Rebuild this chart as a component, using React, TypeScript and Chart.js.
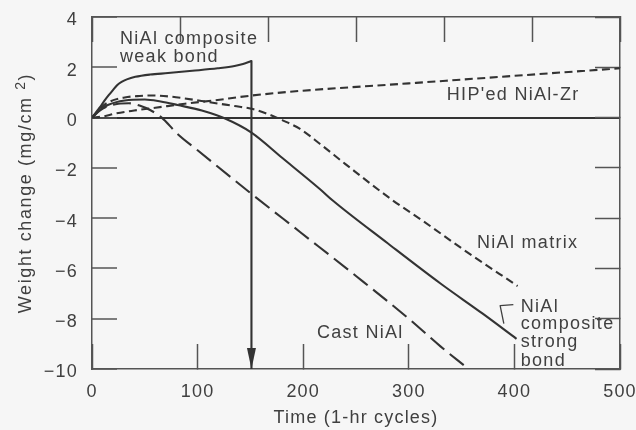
import React, { useEffect, useRef } from 'react';
import { Chart, registerables } from 'chart.js';

Chart.register(...registerables);

// ---- data (time in 1-hr cycles, weight change in mg/cm^2) ----
const weakX = [0, 3, 6, 9, 12, 16, 20, 24, 28, 33, 41, 55, 72, 95, 119, 135, 143, 151];
const weakY = [0, 0.16, 0.33, 0.5, 0.68, 0.9, 1.1, 1.3, 1.42, 1.52, 1.62, 1.71, 1.77, 1.86, 1.96, 2.05, 2.13, 2.25];

const arrowX = [151, 151];
const arrowY = [2.25, -10];

const hipX = [0, 10, 22, 40, 60, 88, 119, 140, 161, 197, 300, 400, 500];
const hipY = [0, 0.04, 0.16, 0.28, 0.39, 0.55, 0.7, 0.82, 0.92, 1.06, 1.36, 1.66, 1.96];

const matrixX = [0, 8, 16, 31, 45, 57, 75, 88, 104, 119, 135, 151, 166, 180, 197, 216, 240, 285, 313, 350, 403];
const matrixY = [0, 0.38, 0.62, 0.8, 0.86, 0.88, 0.83, 0.76, 0.66, 0.56, 0.46, 0.35, 0.15, -0.1, -0.45, -1.05, -1.85, -3.3, -4.1, -5.2, -6.7];

const strongX = [0, 8, 15, 31, 50, 65, 81, 104, 126, 151, 180, 216, 228, 280, 330, 370, 402];
const strongY = [0, 0.32, 0.5, 0.68, 0.72, 0.64, 0.5, 0.28, -0.04, -0.6, -1.6, -2.85, -3.3, -5.0, -6.6, -7.8, -8.8];

const castX = [0, 8, 15, 25, 35, 45, 55, 66, 81, 100, 150, 197, 250, 300, 330, 355];
const castY = [0, 0.3, 0.45, 0.55, 0.57, 0.48, 0.3, 0, -0.65, -1.3, -3.0, -4.55, -6.3, -8.0, -9.1, -9.95];

const leaderX = [399, 386.5, 390];
const leaderY = [-7.44, -7.48, -8.2];

// annotation text lines, anchored at (x, baseline y) in data units
const annoText = ['NiAl composite', 'weak bond', "HIP'ed NiAl-Zr", 'NiAl matrix', 'Cast NiAl', 'NiAl', 'composite', 'strong', 'bond'];
const annoX = [26.5, 26.5, 336, 364.6, 213, 406, 406, 406, 406];
const annoY = [2.93, 2.21, 0.7, -5.19, -8.77, -7.73, -8.41, -9.13, -9.88];

const xTitle = 'Time (1-hr cycles)';
const yTitleMain = 'Weight change (mg/cm ';
const yTitleSup = '2';
const yTitleEnd = ')';

// ---- styles ----
const FONT = "'Liberation Sans', Arial, Helvetica, sans-serif";
const TEXT = '#404040';
const LINE = '#333333';
const FRAME = '#555555';
const BG = '#f6f6f6';

const zip = (xs: number[], ys: number[]) => xs.map((x, i) => ({ x, y: ys[i] }));

const stylePlugin = {
  id: 'stylePlugin',
  beforeLayout(chart: any) {
    chart.ctx.letterSpacing = '1.2px';
  },
  beforeDraw(chart: any) {
    const ctx = chart.ctx;
    ctx.save();
    ctx.fillStyle = BG;
    ctx.fillRect(0, 0, chart.width, chart.height);
    ctx.restore();
    ctx.letterSpacing = '1.2px';
  },
  afterDraw(chart: any) {
    const ctx = chart.ctx;
    // arrowhead at the end of the arrow dataset
    const meta = chart.getDatasetMeta(1);
    const tip = meta.data[meta.data.length - 1];
    ctx.save();
    ctx.fillStyle = LINE;
    ctx.beginPath();
    ctx.moveTo(tip.x, tip.y);
    ctx.lineTo(tip.x - 4.5, tip.y - 21);
    ctx.lineTo(tip.x + 4.5, tip.y - 21);
    ctx.closePath();
    ctx.fill();
    ctx.restore();

    // annotations
    const xs = chart.scales.x;
    const ys = chart.scales.y;
    ctx.save();
    ctx.font = `18px ${FONT}`;
    ctx.letterSpacing = '1.3px';
    ctx.fillStyle = TEXT;
    ctx.textAlign = 'left';
    ctx.textBaseline = 'alphabetic';
    annoText.forEach((t, i) => {
      ctx.fillText(t, xs.getPixelForValue(annoX[i]), ys.getPixelForValue(annoY[i]));
    });
    ctx.restore();

    // y-axis title with superscript
    const area = chart.chartArea;
    ctx.save();
    ctx.fillStyle = TEXT;
    ctx.textAlign = 'left';
    ctx.textBaseline = 'alphabetic';
    ctx.letterSpacing = '1.6px';
    const mainFont = `18px ${FONT}`;
    const supFont = `14px ${FONT}`;
    ctx.font = mainFont;
    const w1 = ctx.measureText(yTitleMain).width;
    const w3 = ctx.measureText(yTitleEnd).width;
    ctx.font = supFont;
    const w2 = ctx.measureText(yTitleSup).width;
    const total = w1 + w2 + w3;
    ctx.translate(31, (area.top + area.bottom) / 2);
    ctx.rotate(-Math.PI / 2);
    let x0 = -total / 2;
    ctx.font = mainFont;
    ctx.fillText(yTitleMain, x0, 0);
    x0 += w1;
    ctx.font = supFont;
    ctx.fillText(yTitleSup, x0, -6);
    x0 += w2;
    ctx.font = mainFont;
    ctx.fillText(yTitleEnd, x0, 0);
    ctx.restore();
    ctx.letterSpacing = '1.2px';
  },
};

const tickFont = { family: FONT, size: 18 };

export default function App() {
  const ref = useRef<HTMLCanvasElement | null>(null);

  useEffect(() => {
    const canvas = ref.current;
    if (!canvas) return;
    const lineBase = {
      pointRadius: 0,
      borderColor: LINE,
      borderWidth: 2.1,
      fill: false,
      cubicInterpolationMode: 'monotone' as const,
      borderCapStyle: 'butt' as const,
      borderJoinStyle: 'round' as const,
      xAxisID: 'x',
      yAxisID: 'y',
    };
    const chart = new Chart(canvas, {
      type: 'line',
      data: {
        datasets: [
          { ...lineBase, label: 'NiAl composite weak bond', data: zip(weakX, weakY) },
          { ...lineBase, label: 'arrow', data: zip(arrowX, arrowY), cubicInterpolationMode: 'default', tension: 0 },
          { ...lineBase, label: "HIP'ed NiAl-Zr", data: zip(hipX, hipY), borderDash: [8, 4.5] },
          { ...lineBase, label: 'NiAl matrix', data: zip(matrixX, matrixY), borderDash: [8, 4.5] },
          { ...lineBase, label: 'NiAl composite strong bond', data: zip(strongX, strongY) },
          { ...lineBase, label: 'Cast NiAl', data: zip(castX, castY), borderDash: [18, 7] },
          { ...lineBase, label: 'leader', data: zip(leaderX, leaderY), borderWidth: 1.3, borderColor: TEXT, cubicInterpolationMode: 'default', tension: 0 },
        ],
      },
      options: {
        animation: false,
        responsive: false,
        events: [],
        layout: { padding: 0 },
        plugins: { legend: { display: false }, tooltip: { enabled: false } },
        scales: {
          x: {
            type: 'linear',
            position: 'bottom',
            min: 0,
            max: 500,
            ticks: { stepSize: 100, padding: 37, color: TEXT, font: tickFont, maxRotation: 0, autoSkip: false },
            grid: { drawOnChartArea: false, tickLength: -25, tickColor: FRAME, tickWidth: 1.5 },
            border: { color: FRAME, width: 1.5 },
            title: { display: true, text: xTitle, color: TEXT, font: tickFont, padding: { top: 0, bottom: 1 } },
            afterFit: (s: any) => {
              s.height = 61;
              s.paddingLeft = 0;
              s.paddingRight = 0;
            },
          },
          x2: {
            type: 'linear',
            position: 'top',
            min: 0,
            max: 6,
            ticks: { display: false, stepSize: 1 },
            grid: { drawOnChartArea: false, tickLength: -25, tickColor: FRAME, tickWidth: 1.5 },
            border: { color: FRAME, width: 1.5 },
            afterFit: (s: any) => {
              s.height = 17;
              s.paddingLeft = 0;
              s.paddingRight = 0;
            },
          },
          y: {
            type: 'linear',
            position: 'left',
            min: -10,
            max: 4,
            ticks: {
              stepSize: 2,
              padding: 39,
              labelOffset: 3.5,
              color: TEXT,
              font: tickFont,
              callback: (v: any) => String(v).replace('-', '\u2212'),
            },
            grid: {
              drawOnChartArea: true,
              color: (c: any) => (c.tick && c.tick.value === 0 ? LINE : 'rgba(0,0,0,0)'),
              lineWidth: 2,
              tickLength: -25,
              tickColor: FRAME,
              tickWidth: 1.5,
            },
            border: { color: FRAME, width: 1.5 },
            title: { display: false },
            afterFit: (s: any) => {
              s.width = 92;
              s.paddingTop = 0;
              s.paddingBottom = 0;
            },
          },
          y2: {
            type: 'linear',
            position: 'right',
            min: -10,
            max: 4,
            ticks: { display: false, stepSize: 2 },
            grid: { drawOnChartArea: false, tickLength: -25, tickColor: FRAME, tickWidth: 1.5 },
            border: { color: FRAME, width: 1.5 },
            afterFit: (s: any) => {
              s.width = 16;
              s.paddingTop = 0;
              s.paddingBottom = 0;
            },
          },
        },
      } as any,
      plugins: [stylePlugin as any],
    });
    return () => chart.destroy();
  }, []);

  return (
    <div style={{ position: 'absolute', left: 0, top: 0, width: 636, height: 430, background: BG }}>
      <canvas ref={ref} width={636} height={430} style={{ display: 'block', width: 636, height: 430 }} />
    </div>
  );
}
